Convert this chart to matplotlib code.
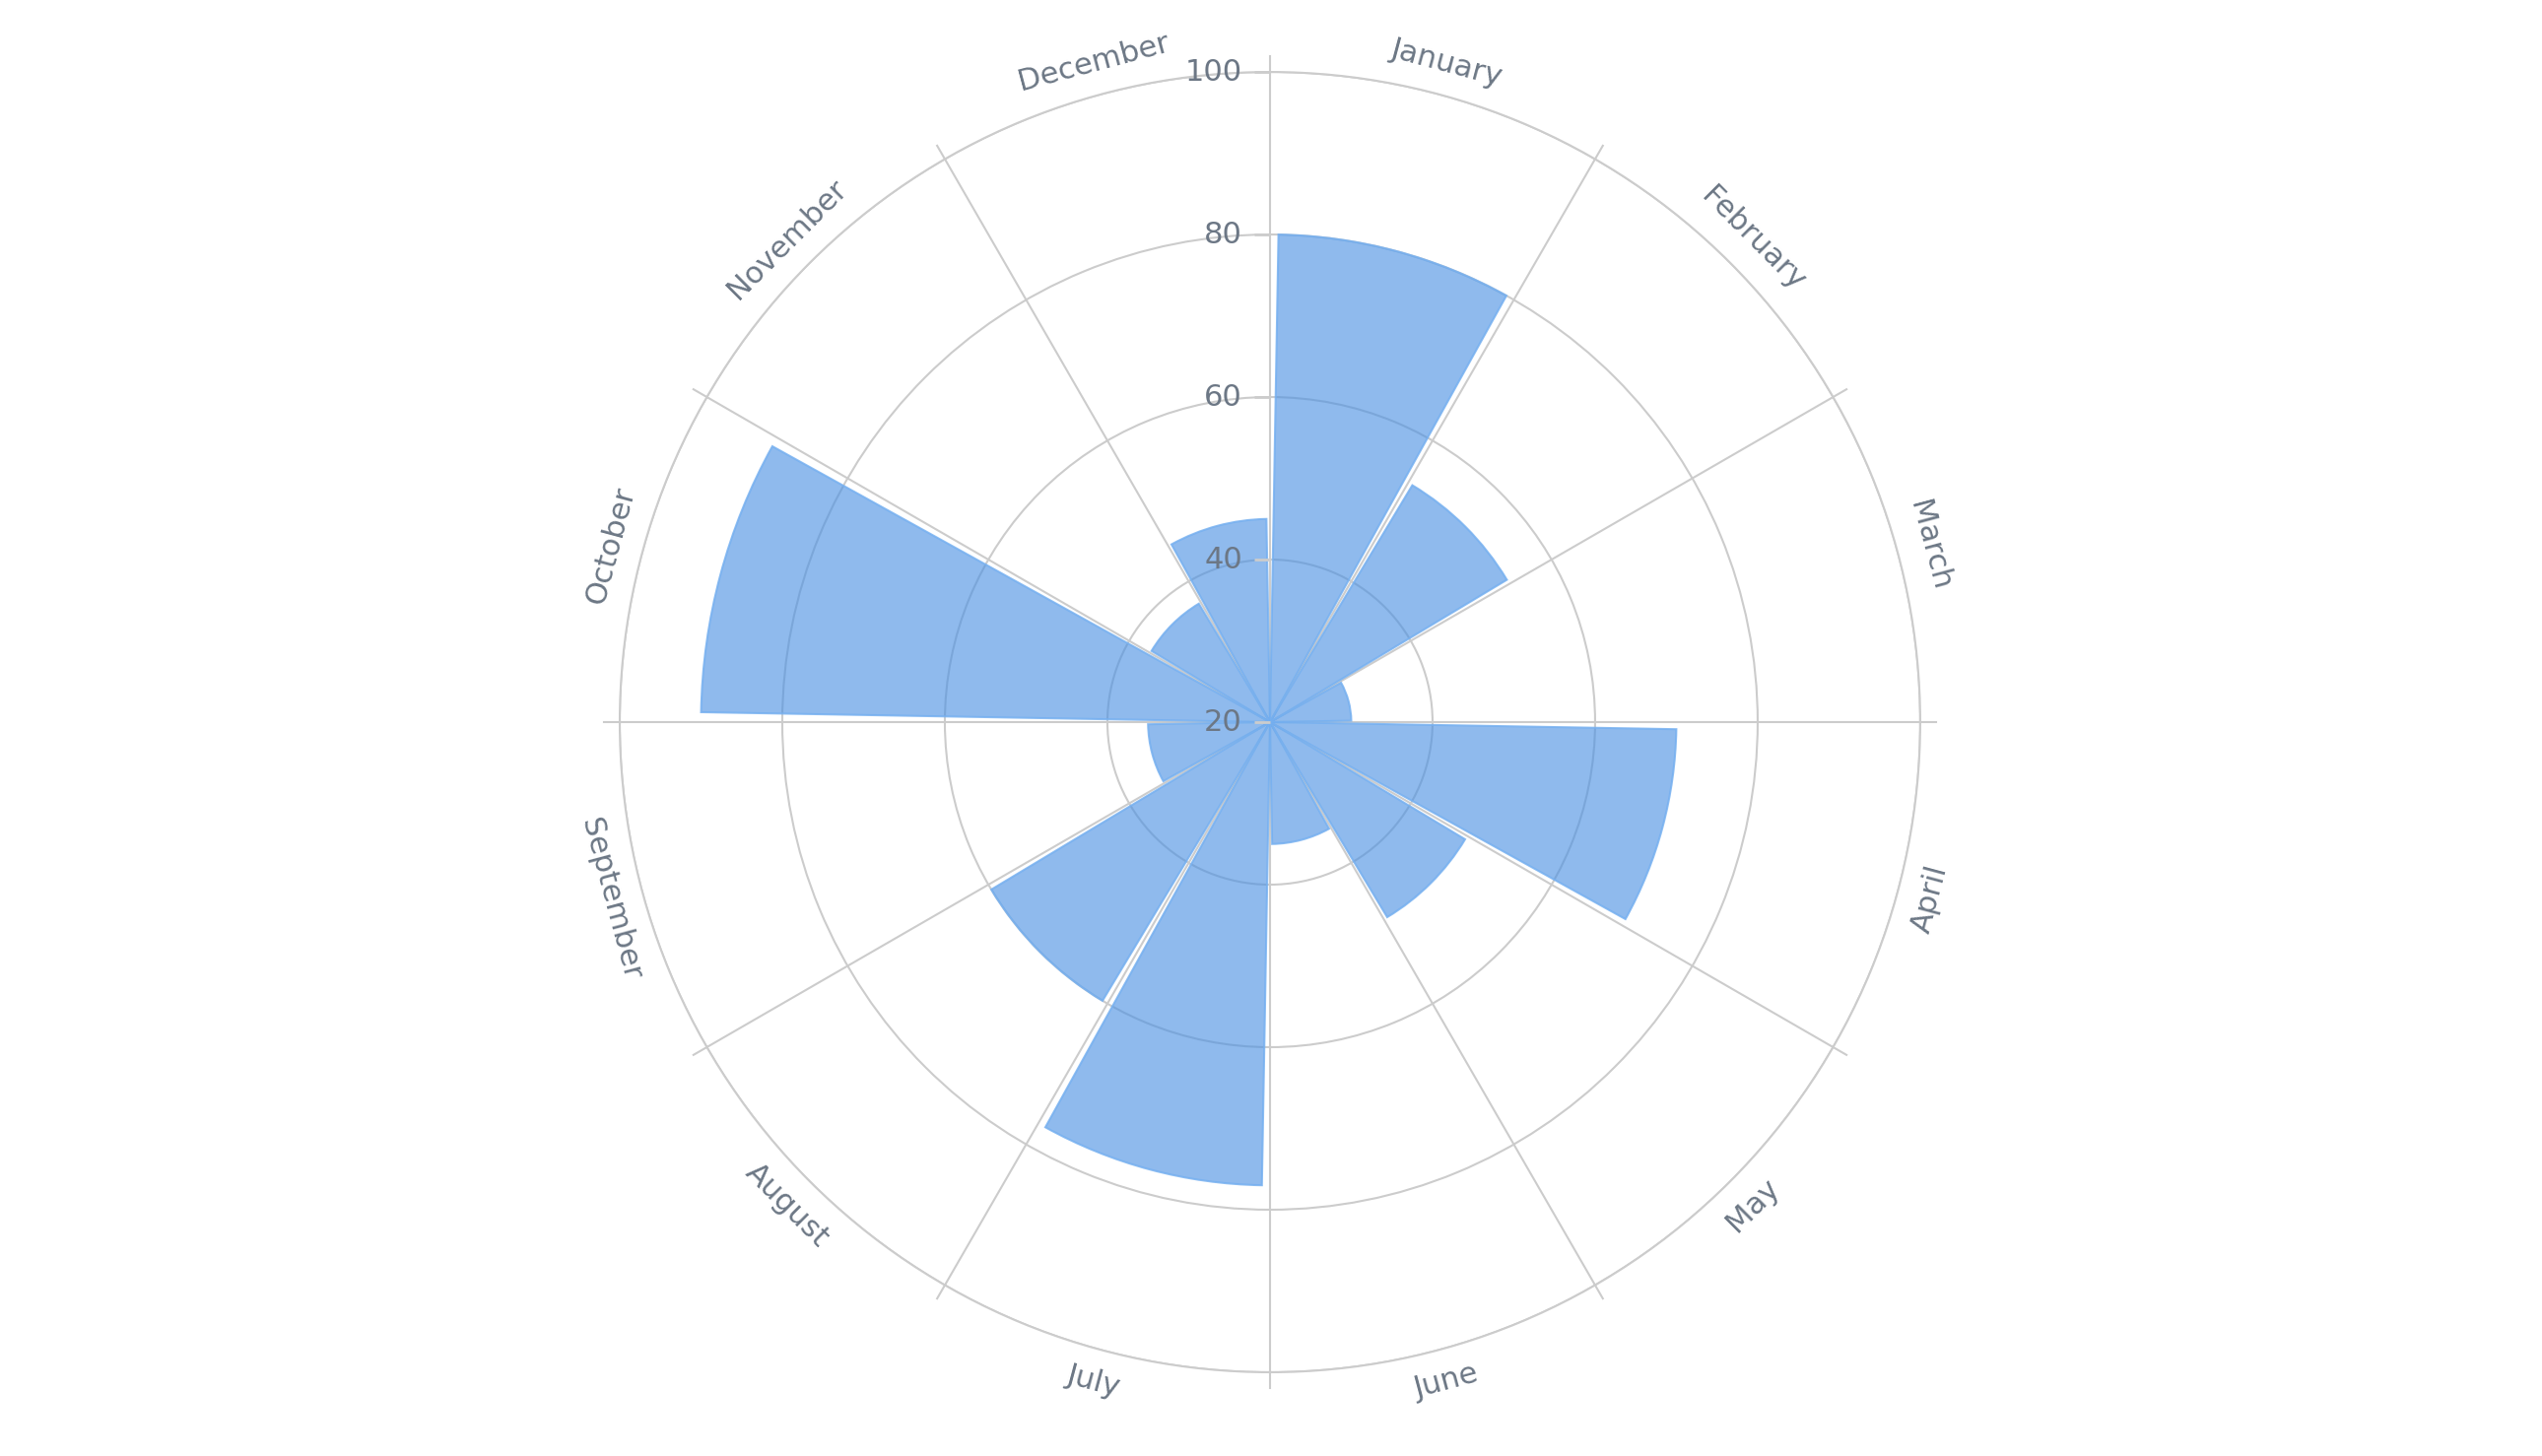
import numpy as np
import matplotlib.pyplot as plt
from matplotlib.transforms import ScaledTranslation

months = ['January', 'February', 'March', 'April', 'May', 'June',
          'July', 'August', 'September', 'October', 'November', 'December']
values = [80, 54, 30, 70, 48, 35, 77, 60, 35, 90, 37, 45]
r_ticks = [20, 40, 60, 80, 100]

text_color = '#6c7785'
grid_color = '#cccccc'
bar_rgb = (74/255, 144/255, 226/255)

fig = plt.figure(figsize=(25.8, 14.78), dpi=100)
ax = fig.add_axes([0.2438, 0.0575, 0.5116, 0.8931], projection='polar')
ax.set_theta_zero_location('N')
ax.set_theta_direction(-1)

# bars sit between the angular gridlines, labels at the centre of each slot
centers = np.deg2rad(15 + 30 * np.arange(len(months)))
ax.bar(centers, np.array(values) - r_ticks[0], width=np.deg2rad(28), bottom=r_ticks[0],
       facecolor=bar_rgb + (0.62,), edgecolor=(118/255, 176/255, 240/255, 0.85),
       linewidth=1.5, zorder=2)

ax.set_ylim(r_ticks[0], r_ticks[-1])
grid_angles = np.deg2rad(np.arange(0, 360, 30))
ax.set_xticks(grid_angles)
ax.set_xticklabels([])
ax.set_yticks(r_ticks)
ax.set_yticklabels([])
ax.set_axisbelow(True)
ax.grid(True, color=grid_color, linewidth=1.5)
ax.spines['polar'].set_color(grid_color)
ax.spines['polar'].set_linewidth(1.5)
ax.tick_params(axis='both', length=0)

# angular gridlines poke a little past the outer ring
for a in grid_angles:
    ax.plot([a, a], [r_ticks[-1], r_ticks[-1] + 1.9], color=grid_color, linewidth=1.5,
            clip_on=False, zorder=1)

# radial axis ticks and labels, left of the 0 degree line
tick_off = ax.transData + ScaledTranslation(-0.08, 0, fig.dpi_scale_trans)
lab_off = ax.transData + ScaledTranslation(-0.28, 0, fig.dpi_scale_trans)
for r in r_ticks:
    ax.plot(0, r, marker='_', markersize=11.5, markeredgewidth=2, color=grid_color,
            transform=tick_off, clip_on=False, zorder=3)
    ax.text(0, r, str(r), transform=lab_off, ha='right', va='center',
            fontsize=22, color=text_color, zorder=4)

# month labels, rotated along the circle
for ang, name in zip(centers, months):
    deg = np.rad2deg(ang)
    rot = ((-deg + 90) % 180) - 90
    ax.text(ang, 104, name, rotation=rot, rotation_mode='anchor', ha='center', va='center',
            fontsize=22, color=text_color, clip_on=False)

plt.savefig('out.png', dpi=100)
